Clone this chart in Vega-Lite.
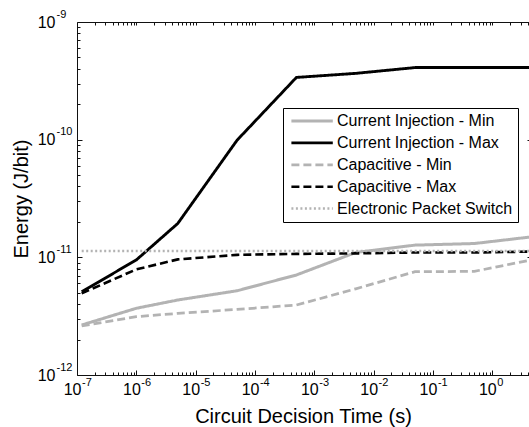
{
  "$schema": "https://vega.github.io/schema/vega-lite/v6.json",
  "width": 452,
  "height": 353,
  "autosize": "none",
  "padding": {"left": 77, "top": 22, "right": 0, "bottom": 52},
  "background": "white",
  "config": {
    "view": {"stroke": null},
    "font": "Liberation Sans",
    "axis": {"labelColor": "black", "titleColor": "black", "grid": false, "labelFont": "Liberation Sans", "titleFont": "Liberation Sans", "titleFontWeight": "normal", "labelFlush": false, "labelOverlap": false, "labelBound": false, "tickWidth": 1, "domainWidth": 1}
  },
  "data": {"values": [
    {"series": "Current Injection - Min", "t": 1.2e-7, "e": 2.66e-12},
    {"series": "Current Injection - Min", "t": 1e-6, "e": 3.69e-12},
    {"series": "Current Injection - Min", "t": 5e-6, "e": 4.34e-12},
    {"series": "Current Injection - Min", "t": 5e-5, "e": 5.2e-12},
    {"series": "Current Injection - Min", "t": 5e-4, "e": 7.08e-12},
    {"series": "Current Injection - Min", "t": 5e-3, "e": 1.1e-11},
    {"series": "Current Injection - Min", "t": 5e-2, "e": 1.27e-11},
    {"series": "Current Injection - Min", "t": 5e-1, "e": 1.31e-11},
    {"series": "Current Injection - Min", "t": 5, "e": 1.5e-11},
    {"series": "Current Injection - Max", "t": 1.2e-7, "e": 5.1e-12},
    {"series": "Current Injection - Max", "t": 1e-6, "e": 9.5e-12},
    {"series": "Current Injection - Max", "t": 5e-6, "e": 1.94e-11},
    {"series": "Current Injection - Max", "t": 5e-5, "e": 9.9e-11},
    {"series": "Current Injection - Max", "t": 5e-4, "e": 3.38e-10},
    {"series": "Current Injection - Max", "t": 5e-3, "e": 3.66e-10},
    {"series": "Current Injection - Max", "t": 5e-2, "e": 4.1e-10},
    {"series": "Current Injection - Max", "t": 5e-1, "e": 4.1e-10},
    {"series": "Current Injection - Max", "t": 5, "e": 4.1e-10},
    {"series": "Capacitive - Min", "t": 1.2e-7, "e": 2.61e-12},
    {"series": "Capacitive - Min", "t": 1e-6, "e": 3.13e-12},
    {"series": "Capacitive - Min", "t": 5e-6, "e": 3.34e-12},
    {"series": "Capacitive - Min", "t": 5e-5, "e": 3.61e-12},
    {"series": "Capacitive - Min", "t": 5e-4, "e": 3.93e-12},
    {"series": "Capacitive - Min", "t": 5e-3, "e": 5.4e-12},
    {"series": "Capacitive - Min", "t": 5e-2, "e": 7.55e-12},
    {"series": "Capacitive - Min", "t": 5e-1, "e": 7.6e-12},
    {"series": "Capacitive - Min", "t": 5, "e": 9.6e-12},
    {"series": "Capacitive - Max", "t": 1.2e-7, "e": 4.94e-12},
    {"series": "Capacitive - Max", "t": 1e-6, "e": 7.9e-12},
    {"series": "Capacitive - Max", "t": 5e-6, "e": 9.6e-12},
    {"series": "Capacitive - Max", "t": 5e-5, "e": 1.05e-11},
    {"series": "Capacitive - Max", "t": 5e-4, "e": 1.07e-11},
    {"series": "Capacitive - Max", "t": 5e-3, "e": 1.08e-11},
    {"series": "Capacitive - Max", "t": 5e-2, "e": 1.1e-11},
    {"series": "Capacitive - Max", "t": 5e-1, "e": 1.1e-11},
    {"series": "Capacitive - Max", "t": 5, "e": 1.12e-11},
    {"series": "Electronic Packet Switch", "t": 1.2e-7, "e": 1.13e-11},
    {"series": "Electronic Packet Switch", "t": 5, "e": 1.13e-11}
  ]},
  "layer": [
    {
      "mark": {"type": "line", "clip": true},
      "encoding": {
        "x": {"field": "t", "type": "quantitative",
          "scale": {"type": "log", "domain": [1e-7, 4.17], "nice": false},
          "axis": {"orient": "bottom", "labels": false, "ticks": true, "tickColor": "#111111", "domainColor": "#111111",
            "values": [2e-7,3e-7,4e-7,5e-7,6e-7,7e-7,8e-7,9e-7,2e-6,3e-6,4e-6,5e-6,6e-6,7e-6,8e-6,9e-6,2e-5,3e-5,4e-5,5e-5,6e-5,7e-5,8e-5,9e-5,2e-4,3e-4,4e-4,5e-4,6e-4,7e-4,8e-4,9e-4,2e-3,3e-3,4e-3,5e-3,6e-3,7e-3,8e-3,9e-3,2e-2,3e-2,4e-2,5e-2,6e-2,7e-2,8e-2,9e-2,0.2,0.3,0.4,0.5,0.6,0.7,0.8,0.9,2,3,4],
            "tickSize": -3,
            "title": "Circuit Decision Time (s)", "titleFontSize": 20, "titleBaseline": "alphabetic", "titleY": 47}},
        "y": {"field": "e", "type": "quantitative",
          "scale": {"type": "log", "domain": [1e-12, 1e-9], "nice": false},
          "axis": {"orient": "left", "labels": false, "ticks": true, "tickColor": "#111111", "domainColor": "#111111",
            "values": [2e-12,3e-12,4e-12,5e-12,6e-12,7e-12,8e-12,9e-12,2e-11,3e-11,4e-11,5e-11,6e-11,7e-11,8e-11,9e-11,2e-10,3e-10,4e-10,5e-10,6e-10,7e-10,8e-10,9e-10],
            "tickSize": -3,
            "title": "Energy (J/bit)", "titleFontSize": 20, "titleBaseline": "alphabetic", "titleAngle": -90, "titleX": -50}},
        "color": {"field": "series", "type": "nominal",
          "scale": {"domain": ["Current Injection - Min", "Current Injection - Max", "Capacitive - Min", "Capacitive - Max", "Electronic Packet Switch"],
                    "range": ["#b3b3b3", "#000000", "#b3b3b3", "#000000", "#b3b3b3"]},
          "legend": {"orient": "none", "legendX": 206, "legendY": 86, "direction": "vertical", "title": null,
            "symbolType": "M-1.15,0H9.2", "symbolSize": 64, "symbolStrokeWidth": 2.5,
            "labelFontSize": 16, "labelFont": "Liberation Sans", "labelColor": "black", "labelOffset": 33, "labelLimit": 400,
            "padding": 5, "rowPadding": 5.9, "strokeColor": "black", "fillColor": "white", "cornerRadius": 0}},
        "strokeDash": {"field": "series", "type": "nominal",
          "scale": {"domain": ["Current Injection - Min", "Current Injection - Max", "Capacitive - Min", "Capacitive - Max", "Electronic Packet Switch"],
                    "range": [[1, 0], [1, 0], [8, 4], [8, 4], [2, 2.5]]}},
        "strokeWidth": {"field": "series", "type": "nominal",
          "scale": {"domain": ["Current Injection - Min", "Current Injection - Max", "Capacitive - Min", "Capacitive - Max", "Electronic Packet Switch"],
                    "range": [3, 2.5, 3, 2.5, 3]}, "legend": null}
      }
    },
    {
      "mark": {"type": "line", "strokeOpacity": 0, "clip": true},
      "encoding": {
        "detail": {"field": "series"},
        "x": {"field": "t", "type": "quantitative",
          "axis": {"orient": "bottom", "ticks": true, "tickSize": -5, "tickColor": "#111111", "domain": false, "title": null,
            "values": [1e-7,1e-6,1e-5,1e-4,1e-3,1e-2,0.1,1],
            "labelExpr": "'10'", "labelFontSize": 16, "labelAlign": "right", "labelOffset": 4, "labelPadding": 11, "labelBaseline": "top"}},
        "y": {"field": "e", "type": "quantitative",
          "axis": {"orient": "left", "ticks": true, "tickSize": -5, "tickColor": "#111111", "domain": false, "title": null,
            "values": [1e-12,1e-11,1e-10,1e-9],
            "labelExpr": "'10'", "labelFontSize": 16, "labelAlign": "right", "labelPadding": 27, "labelBaseline": "middle"}}
      }
    },
    {
      "mark": {"type": "line", "strokeOpacity": 0, "clip": true},
      "encoding": {
        "detail": {"field": "series"},
        "x": {"field": "t", "type": "quantitative",
          "axis": {"orient": "bottom", "ticks": false, "domain": false, "title": null,
            "values": [1e-7,1e-6,1e-5,1e-4,1e-3,1e-2,0.1,1],
            "labelExpr": "'' + round(log(datum.value)/LN10)", "labelFontSize": 11, "labelAlign": "left", "labelOffset": 4.5, "labelPadding": 1, "labelBaseline": "top"}},
        "y": {"field": "e", "type": "quantitative",
          "axis": {"orient": "left", "ticks": false, "domain": false, "title": null,
            "values": [1e-12,1e-11,1e-10,1e-9],
            "labelExpr": "'' + round(log(datum.value)/LN10)", "labelFontSize": 11, "labelAlign": "left", "labelPadding": 21, "labelOffset": -8, "labelBaseline": "middle"}}
      }
    },
    {
      "mark": {"type": "line", "strokeOpacity": 0, "clip": true},
      "encoding": {
        "detail": {"field": "series"},
        "x": {"field": "t", "type": "quantitative",
          "axis": {"orient": "top", "labels": false, "title": null, "ticks": true, "domainColor": "#111111", "tickColor": "#111111",
            "values": [2e-7,3e-7,4e-7,5e-7,6e-7,7e-7,8e-7,9e-7,1e-6,2e-6,3e-6,4e-6,5e-6,6e-6,7e-6,8e-6,9e-6,1e-5,2e-5,3e-5,4e-5,5e-5,6e-5,7e-5,8e-5,9e-5,1e-4,2e-4,3e-4,4e-4,5e-4,6e-4,7e-4,8e-4,9e-4,1e-3,2e-3,3e-3,4e-3,5e-3,6e-3,7e-3,8e-3,9e-3,1e-2,2e-2,3e-2,4e-2,5e-2,6e-2,7e-2,8e-2,9e-2,0.1,0.2,0.3,0.4,0.5,0.6,0.7,0.8,0.9,1,2,3,4],
            "tickSize": -3}},
        "y": {"field": "e", "type": "quantitative",
          "axis": {"orient": "right", "labels": false, "ticks": true, "domain": false, "title": null, "tickColor": "#111111",
            "values": [1e-12,1e-11,1e-10,1e-9], "tickSize": -2}}
      }
    }
  ],
  "resolve": {"axis": {"x": "independent", "y": "independent"}}
}
